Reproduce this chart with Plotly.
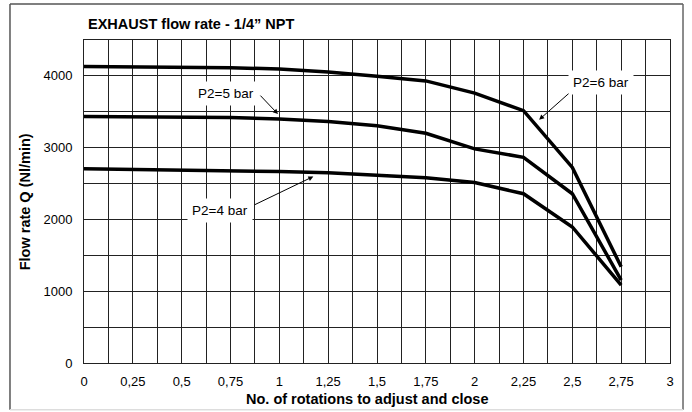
import plotly.graph_objects as go

# No. of rotations (x) and flow rate Q in Nl/min for each P2 curve
rotations = [0, 0.25, 0.5, 0.75, 1, 1.25, 1.5, 1.75, 2, 2.25, 2.5, 2.75]
q_6bar = [4130, 4125, 4120, 4115, 4095, 4055, 3995, 3930, 3760, 3515, 2725, 1340]
q_5bar = [3435, 3432, 3428, 3420, 3400, 3366, 3306, 3200, 2983, 2866, 2358, 1155]
q_4bar = [2705, 2698, 2690, 2680, 2668, 2650, 2612, 2580, 2515, 2358, 1895, 1086]

x_ticks = [0, 0.25, 0.5, 0.75, 1, 1.25, 1.5, 1.75, 2, 2.25, 2.5, 2.75, 3]
x_labels = ["0", "0,25", "0,5", "0,75", "1", "1,25", "1,5", "1,75", "2", "2,25", "2,5", "2,75", "3"]
y_ticks = [0, 1000, 2000, 3000, 4000]

# label text, label position, arrow tail, arrow head
labels = [
    ("P2=6 bar", 2.647, 3903, 2.497, 3792, 2.33, 3389),
    ("P2=5 bar", 0.727, 3754, 0.896, 3746, 0.993, 3468),
    ("P2=4 bar", 0.696, 2127, 0.867, 2196, 1.174, 2598),
]

FONT = "Liberation Sans, Arial, sans-serif"

fig = go.Figure()
for q in (q_6bar, q_5bar, q_4bar):
    fig.add_trace(go.Scatter(
        x=rotations, y=q, mode="lines",
        line=dict(color="black", width=3.5),
        hoverinfo="skip",
    ))

for text, lx, ly, tx, ty, hx, hy in labels:
    fig.add_annotation(
        x=hx, y=hy, ax=tx, ay=ty, xref="x", yref="y", axref="x", ayref="y",
        text="", showarrow=True, arrowhead=2, arrowsize=1, arrowwidth=1,
        arrowcolor="black",
    )
    fig.add_annotation(
        x=lx, y=ly, xref="x", yref="y", text=text, showarrow=False,
        font=dict(family=FONT, size=13.5, color="black"),
        bgcolor="white", borderpad=4,
    )

fig.add_annotation(
    x=0.003, y=1.0495, xref="paper", yref="paper", xanchor="left", yanchor="middle",
    text="<b>EXHAUST flow rate - 1/4\u201d NPT</b>", showarrow=False,
    font=dict(family=FONT, size=14.5, color="black"),
)
fig.add_annotation(
    x=0.484, y=-0.113, xref="paper", yref="paper", xanchor="center", yanchor="middle",
    text="<b>No. of rotations to adjust and close</b>", showarrow=False,
    font=dict(family=FONT, size=14.5, color="black"),
)
fig.add_annotation(
    x=-0.101, y=0.5, xref="paper", yref="paper", xanchor="center", yanchor="middle",
    text="<b>Flow rate Q (Nl/min)</b>", showarrow=False, textangle=-90,
    font=dict(family=FONT, size=14.5, color="black"),
)

# outer frame
frame = [
    (-0.1263, -0.1444, -0.1263, 1.1114, "#555"),
    (-0.1263, 1.1114, 1.0222, 1.1114, "#555"),
    (1.0222, -0.1444, 1.0222, 1.1114, "#666"),
    (-0.1263, -0.1444, 1.0222, -0.1444, "#ddd"),
]
for x0, y0, x1, y1, c in frame:
    fig.add_shape(type="line", xref="paper", yref="paper",
                  x0=x0, y0=y0, x1=x1, y1=y1, line=dict(color=c, width=1.5))

fig.update_xaxes(
    range=[0, 3], tickvals=x_ticks, ticktext=x_labels,
    showgrid=True, gridcolor="#222", gridwidth=1,
    minor=dict(dtick=0.125, tick0=0, showgrid=True, gridcolor="#222", gridwidth=1),
    showline=True, linecolor="#222", linewidth=1, mirror=True,
    zeroline=False, ticks="", ticklabelstandoff=6,
    tickfont=dict(family=FONT, size=13, color="black"),
)
fig.update_yaxes(
    range=[0, 4500], tickvals=y_ticks,
    showgrid=True, gridcolor="#222", gridwidth=1,
    minor=dict(dtick=500, tick0=0, showgrid=True, gridcolor="#222", gridwidth=1),
    showline=True, linecolor="#222", linewidth=1, mirror=True,
    zeroline=False, ticks="", ticklabelstandoff=8,
    tickfont=dict(family=FONT, size=13, color="black"),
)

fig.update_layout(
    width=692, height=412,
    margin=dict(l=84, r=22, t=40, b=49),
    plot_bgcolor="white", paper_bgcolor="white",
    showlegend=False,
)

# drop the browser's default page margin so the figure sits at the top-left corner
fig.write_html(
    "out.html",
    config={"displayModeBar": False},
    post_script="document.body.style.margin='0';document.body.style.overflow='hidden';",
)
